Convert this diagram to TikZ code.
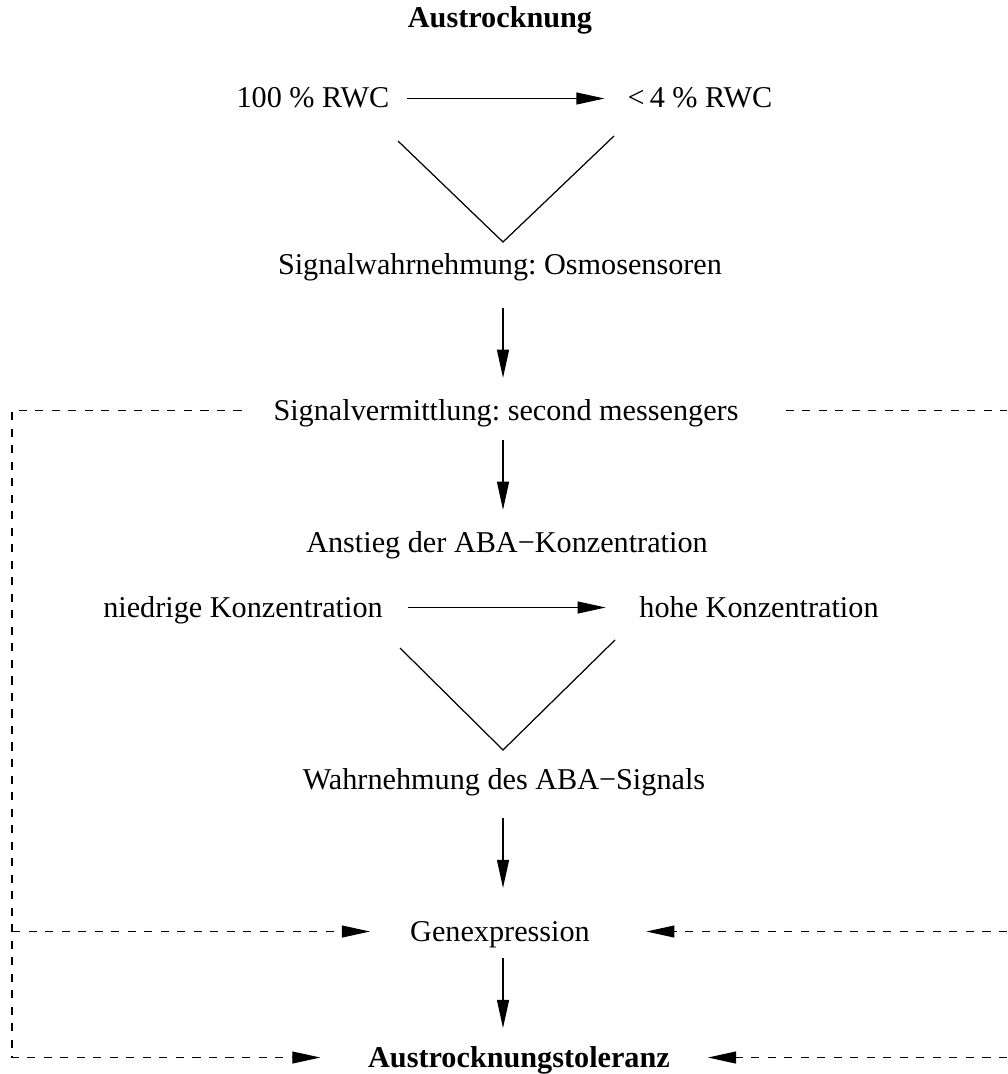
\documentclass[tikz,border=0pt]{standalone}
\usepackage{fontspec}
\setmainfont{Liberation Serif}
\usepackage{tikz}
\usetikzlibrary{arrows.meta}
\usetikzlibrary{calc}
\frenchspacing

\tikzset{
    txt/.style={anchor=base, inner sep=0pt, text height=13pt, text depth=2.2pt, font=\fontsize{17.2pt}{20pt}\selectfont},
    flow/.style={line width=0.7pt, -{Triangle[length=16pt,width=6.8pt]}},
    dline/.style={line width=0.7pt, dash pattern=on 4.6pt off 4.8pt},
    darrow/.style={dline, -{Triangle[length=16pt,width=6.8pt]}}
}

\begin{document}
\begin{tikzpicture}[x=0.02cm, y=-0.02cm]
                \useasboundingbox (0,0) rectangle (1007,1074);
                % texts
                \node[txt, font=\fontsize{17.2pt}{20pt}\selectfont\bfseries] (titel) at (500,28) {Austrocknung};
                \node[txt] (rwcvoll) at (313,108) {100 \% RWC};
                \node[txt] (rwcleer) at (700,108) {<\,4 \% RWC};
                \node[txt] (sensor) at (500,275) {Signalwahrnehmung: Osmosensoren};
                \node[txt] (vermittlung) at (506,420) {Signalvermittlung: second messengers};
                \node[txt] (anstieg) at (507,552) {Anstieg der ABA−Konzentration};
                \node[txt] (niedrig) at (243,617) {niedrige Konzentration};
                \node[txt] (hoch) at (759,617) {hohe Konzentration};
                \node[txt] (aba) at (504,789) {Wahrnehmung des ABA−Signals};
                \node[txt] (gen) at (500,941) {Genexpression};
                \node[txt, font=\fontsize{17.2pt}{20pt}\selectfont\bfseries] (toleranz) at (519,1067) {Austrocknungstoleranz};
                % axis and edges of the frame
                \coordinate (mx) at (503,0);
                \coordinate (lx) at (12,0);
                \coordinate (rx) at (1007,0);
                \coordinate (lo) at (vermittlung -| lx);
                \coordinate (lm) at (gen -| lx);
                \coordinate (lu) at (toleranz -| lx);
                \coordinate (ro) at (vermittlung -| rx);
                \coordinate (rm) at (gen -| rx);
                \coordinate (ru) at (toleranz -| rx);
                % V shapes
                \coordinate (v1) at (503,242);
                \coordinate (v2) at (503,750);
                \draw[line width=0.7pt] (398,141) -- (v1) -- (614,136);
                \draw[line width=0.7pt] (400,648) -- (v2) -- (615,640);
                % solid arrows
                \draw[flow, shorten <=9.6pt, shorten >=13pt] (rwcvoll) -- (rwcleer);
                \draw[flow, shorten <=14pt, shorten >=19pt] (niedrig) -- (hoch);
                \draw[flow, shorten <=16.5pt, shorten >=10.8pt] (sensor.south -| mx) -- (vermittlung.north -| mx);
                \draw[flow, shorten <=9pt, shorten >=10.8pt] (vermittlung.south -| mx) -- (anstieg.north -| mx);
                \draw[flow, shorten <=14pt, shorten >=17pt] (aba.south -| mx) -- (gen.north -| mx);
                \draw[flow, shorten <=7.5pt, shorten >=9pt] (gen.south -| mx) -- (toleranz.north -| mx);
                % dashed feedback lines
                \draw[darrow, shorten <=18pt, shorten >=27pt] (vermittlung.west) -- (lo) -- (lu) -- (toleranz.west);
                \draw[darrow, shorten >=22.7pt] (lm) -- (gen.west);
                \draw[dline, shorten <=26.6pt] (vermittlung.east) -- (ro);
                \draw[darrow, shorten >=32pt] (rm) -- (gen.east);
                \draw[darrow, shorten >=21.5pt] (ru) -- (toleranz.east);
            \end{tikzpicture}
\end{document}
